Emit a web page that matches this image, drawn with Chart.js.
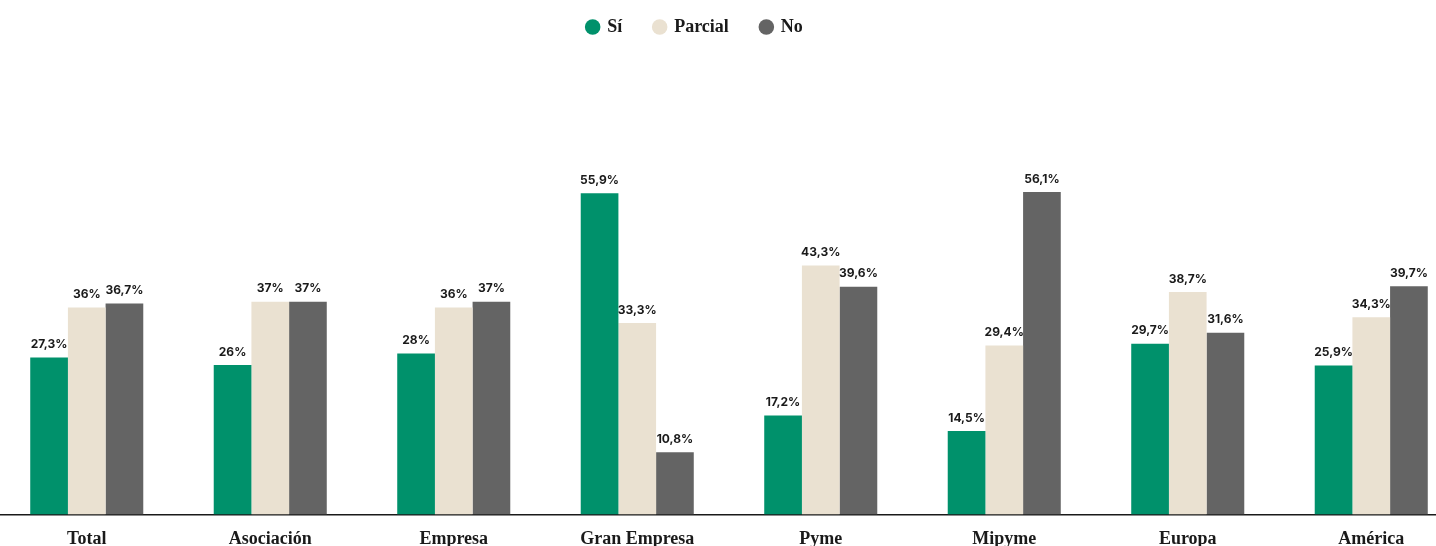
<!DOCTYPE html>
<html>
<head>
<meta charset="utf-8">
<script src="https://cdn.jsdelivr.net/npm/chart.js@4"></script>
<style>
  html, body { margin: 0; padding: 0; background: #fff; overflow: hidden; }
  #wrap { position: absolute; left: -5px; top: 0; width: 1468px; height: 556px; }
</style>
</head>
<body>
<div id="wrap"><canvas id="chart"></canvas></div>
<script>
const categories = ["Total", "Asociación", "Empresa", "Gran Empresa", "Pyme", "Mipyme", "Europa", "América"];
const siValues = [27.3, 26, 28, 55.9, 17.2, 14.5, 29.7, 25.9];
const parcialValues = [36, 37, 36, 33.3, 43.3, 29.4, 38.7, 34.3];
const noValues = [36.7, 37, 37, 10.8, 39.6, 56.1, 31.6, 39.7];

const serif = "'Liberation Serif', 'DejaVu Serif', serif";

const valueLabels = {
  id: "valueLabels",
  afterDatasetsDraw(chart) {
    const ctx = chart.ctx;
    ctx.save();
    ctx.font = "700 12px Inter, 'Noto Sans', sans-serif";
    ctx.fillStyle = "#1a1a1a";
    ctx.textAlign = "center";
    ctx.textBaseline = "middle";
    chart.data.datasets.forEach((ds, i) => {
      chart.getDatasetMeta(i).data.forEach((bar, j) => {
        const txt = String(ds.data[j]).replace(".", ",") + "%";
        ctx.fillText(txt, bar.x, bar.y - 13);
      });
    });
    ctx.restore();
  },
};

// the legend in the original sits a bit left of the middle
const legendShift = {
  id: "legendShift",
  afterLayout(chart) {
    const lg = chart.legend;
    lg.left -= 34;
    lg.right -= 34;
    lg.legendHitBoxes.forEach((b) => (b.left -= 34));
  },
};

new Chart(document.getElementById("chart"), {
  type: "bar",
  data: {
    labels: categories,
    datasets: [
      { label: "Sí", data: siValues, backgroundColor: "#00916b" },
      { label: "Parcial", data: parcialValues, backgroundColor: "#eae1d1" },
      { label: "No", data: noValues, backgroundColor: "#646464" },
    ],
  },
  options: {
    responsive: true,
    maintainAspectRatio: false,
    animation: false,
    categoryPercentage: 0.616,
    barPercentage: 1,
    layout: { padding: { left: 0, right: 0, top: -14, bottom: 0 } },
    plugins: {
      legend: {
        position: "top",
        labels: {
          usePointStyle: true,
          pointStyle: "circle",
          boxWidth: 11,
          boxHeight: 11,
          padding: 32,
          color: "#1a1a1a",
          font: { family: serif, size: 18, weight: "bold" },
        },
      },
      tooltip: { enabled: false },
    },
    scales: {
      y: {
        display: false,
        min: 0,
        max: 81.5,
      },
      x: {
        grid: { display: false },
        border: { display: true, color: "#1a1a1a", width: 1.5 },
        ticks: {
          color: "#1a1a1a",
          padding: 6,
          font: { family: serif, size: 18, weight: "bold" },
        },
      },
    },
  },
  plugins: [valueLabels, legendShift],
});
</script>
</body>
</html>
